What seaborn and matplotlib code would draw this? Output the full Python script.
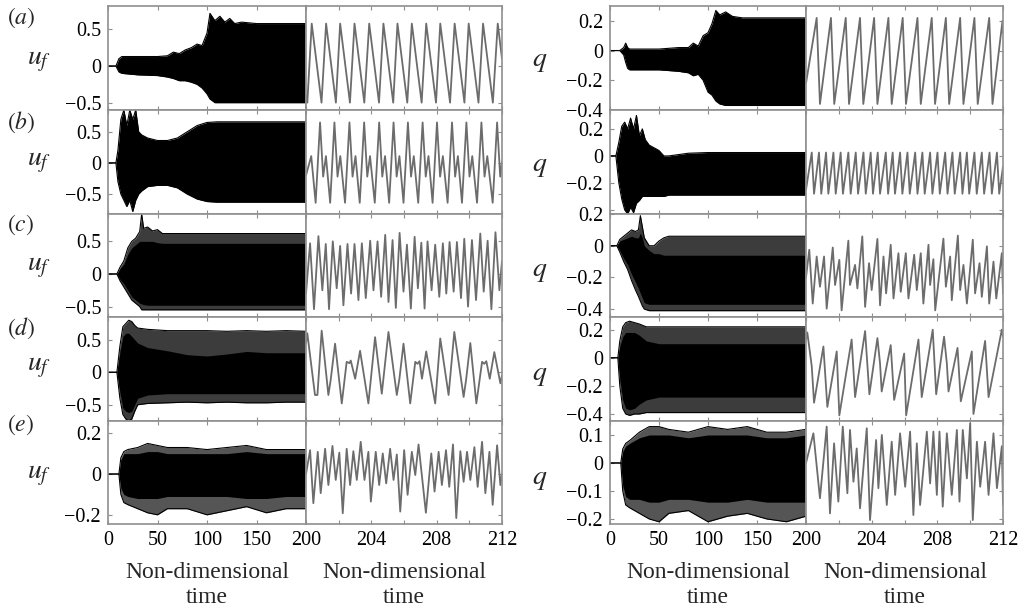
import matplotlib
matplotlib.use("Agg")
import matplotlib.pyplot as plt
import seaborn as sns
import numpy as np

sns.set_theme(style="ticks")
plt.rcParams['font.family'] = ['Liberation Serif', 'DejaVu Serif']
plt.rcParams['mathtext.fontset'] = 'stix'
plt.rcParams['axes.unicode_minus'] = True

# ---------------- data: long records (envelopes) ----------------
# left column (u_f)
UA_T = [0, 8, 11, 14, 30, 50, 60, 66, 72, 78, 84, 90, 95, 100, 103, 108, 113, 118, 123, 128, 135, 150, 200]
UA_UP = [0, 0, 0.10, 0.13, 0.13, 0.13, 0.14, 0.19, 0.17, 0.22, 0.25, 0.30, 0.28, 0.45, 0.72, 0.62, 0.68, 0.60, 0.65, 0.58, 0.60, 0.58, 0.58]
UA_LO = [0, 0, -0.08, -0.10, -0.12, -0.13, -0.15, -0.17, -0.20, -0.20, -0.22, -0.25, -0.30, -0.38, -0.45, -0.50, -0.50, -0.50, -0.50, -0.50, -0.50, -0.50, -0.50]

UB_T = [0, 8, 10, 13, 16, 19, 22, 25, 28, 31, 34, 40, 50, 60, 70, 80, 90, 100, 110, 200]
UB_UP = [0, 0, 0.20, 0.70, 0.85, 0.60, 0.85, 0.70, 0.85, 0.50, 0.45, 0.40, 0.36, 0.36, 0.40, 0.50, 0.60, 0.65, 0.66, 0.66]
UB_LO = [0, 0, -0.30, -0.50, -0.60, -0.70, -0.60, -0.78, -0.60, -0.50, -0.45, -0.38, -0.36, -0.36, -0.40, -0.50, -0.58, -0.62, -0.63, -0.63]

UC_T = [0, 9, 12, 16, 20, 24, 28, 32, 34, 36, 40, 45, 50, 55, 60, 200]
UC_UP = [0, 0, 0.10, 0.20, 0.40, 0.50, 0.55, 0.65, 0.92, 0.70, 0.72, 0.66, 0.68, 0.62, 0.62, 0.62]
UC_CU = [0, 0, 0.08, 0.15, 0.30, 0.40, 0.45, 0.50, 0.50, 0.50, 0.50, 0.50, 0.48, 0.47, 0.47, 0.47]
UC_CL = [0, 0, -0.08, -0.15, -0.25, -0.35, -0.40, -0.45, -0.46, -0.47, -0.48, -0.48, -0.48, -0.48, -0.48, -0.48]
UC_LO = [0, 0, -0.10, -0.20, -0.30, -0.40, -0.45, -0.50, -0.55, -0.55, -0.55, -0.55, -0.55, -0.55, -0.55, -0.55]

UD_T = [0, 9, 12, 15, 18, 21, 24, 27, 30, 40, 60, 80, 100, 120, 140, 160, 180, 200]
UD_UP = [0, 0, 0.40, 0.70, 0.75, 0.80, 0.78, 0.72, 0.68, 0.66, 0.64, 0.64, 0.64, 0.63, 0.64, 0.63, 0.64, 0.63]
UD_CU = [0, 0, 0.30, 0.55, 0.60, 0.60, 0.55, 0.50, 0.45, 0.38, 0.33, 0.27, 0.25, 0.28, 0.32, 0.30, 0.30, 0.30]
UD_CL = [0, 0, -0.30, -0.55, -0.60, -0.62, -0.60, -0.50, -0.40, -0.35, -0.33, -0.33, -0.33, -0.33, -0.33, -0.33, -0.33, -0.33]
UD_LO = [0, 0, -0.40, -0.65, -0.72, -0.75, -0.72, -0.60, -0.50, -0.48, -0.47, -0.46, -0.47, -0.46, -0.47, -0.47, -0.46, -0.46]

UE_T = [0, 11, 13, 16, 20, 30, 40, 50, 60, 80, 100, 120, 140, 160, 180, 200]
UE_UP = [0, 0, 0.08, 0.11, 0.12, 0.13, 0.15, 0.14, 0.13, 0.13, 0.12, 0.13, 0.14, 0.12, 0.12, 0.12]
UE_CU = [0, 0, 0.07, 0.10, 0.10, 0.10, 0.11, 0.11, 0.10, 0.10, 0.10, 0.10, 0.11, 0.10, 0.10, 0.10]
UE_CL = [0, 0, -0.07, -0.10, -0.11, -0.12, -0.12, -0.12, -0.11, -0.11, -0.11, -0.11, -0.12, -0.12, -0.11, -0.11]
UE_LO = [0, 0, -0.10, -0.14, -0.15, -0.17, -0.19, -0.20, -0.17, -0.17, -0.20, -0.18, -0.16, -0.19, -0.17, -0.17]

# right column (q)
QA_T = [0, 10, 14, 16, 18, 20, 30, 50, 70, 80, 85, 90, 95, 100, 104, 108, 112, 118, 125, 135, 200]
QA_UP = [0, 0, 0.02, 0.05, 0.02, 0.01, 0.01, 0.01, 0.02, 0.02, 0.05, 0.03, 0.10, 0.12, 0.18, 0.27, 0.24, 0.26, 0.23, 0.22, 0.22]
QA_LO = [0, 0, -0.03, -0.08, -0.12, -0.13, -0.13, -0.13, -0.14, -0.15, -0.17, -0.16, -0.20, -0.28, -0.30, -0.34, -0.36, -0.37, -0.37, -0.37, -0.37]

QB_T = [0, 6, 9, 12, 15, 18, 21, 24, 27, 30, 33, 36, 40, 45, 50, 55, 60, 80, 100, 200]
QB_UP = [0, 0, 0.10, 0.22, 0.25, 0.20, 0.28, 0.20, 0.30, 0.15, 0.20, 0.12, 0.08, 0.06, 0.04, 0.00, 0.00, 0.02, 0.025, 0.025]
QB_LO = [0, 0, -0.20, -0.32, -0.40, -0.43, -0.38, -0.42, -0.35, -0.33, -0.30, -0.30, -0.30, -0.30, -0.30, -0.30, -0.29, -0.29, -0.29, -0.29]

QC_T = [0, 7, 10, 14, 18, 22, 26, 29, 31, 33, 35, 40, 45, 50, 55, 60, 200]
QC_UP = [0, 0, 0.04, 0.06, 0.08, 0.10, 0.09, 0.10, 0.19, 0.12, 0.05, 0.00, 0.00, 0.03, 0.05, 0.06, 0.06]
QC_CU = [0, 0, 0.03, 0.04, 0.05, 0.06, 0.05, 0.05, 0.08, 0.05, 0.00, -0.03, -0.05, -0.05, -0.06, -0.06, -0.06]
QC_CL = [0, 0, -0.03, -0.08, -0.12, -0.18, -0.23, -0.27, -0.30, -0.33, -0.36, -0.37, -0.37, -0.37, -0.37, -0.37, -0.37]
QC_LO = [0, 0, -0.04, -0.10, -0.15, -0.22, -0.28, -0.32, -0.35, -0.38, -0.40, -0.41, -0.41, -0.41, -0.41, -0.41, -0.41]

QD_T = [0, 8, 10, 13, 16, 20, 25, 30, 37, 50, 100, 150, 200]
QD_UP = [0, 0, 0.12, 0.22, 0.25, 0.26, 0.25, 0.24, 0.22, 0.22, 0.22, 0.22, 0.22]
QD_CU = [0, 0, 0.08, 0.15, 0.18, 0.18, 0.18, 0.16, 0.12, 0.10, 0.10, 0.10, 0.10]
QD_CL = [0, 0, -0.15, -0.30, -0.36, -0.37, -0.36, -0.33, -0.30, -0.28, -0.28, -0.28, -0.28]
QD_LO = [0, 0, -0.20, -0.36, -0.40, -0.41, -0.40, -0.40, -0.39, -0.39, -0.39, -0.39, -0.39]

QE_T = [0, 11, 13, 16, 20, 30, 40, 50, 60, 80, 100, 120, 140, 160, 180, 200]
QE_UP = [0, 0, 0.05, 0.07, 0.08, 0.11, 0.13, 0.13, 0.12, 0.11, 0.13, 0.12, 0.13, 0.11, 0.11, 0.12]
QE_CU = [0, 0, 0.04, 0.06, 0.07, 0.09, 0.10, 0.10, 0.10, 0.09, 0.10, 0.10, 0.10, 0.09, 0.09, 0.10]
QE_CL = [0, 0, -0.08, -0.12, -0.13, -0.13, -0.14, -0.14, -0.13, -0.13, -0.14, -0.14, -0.13, -0.14, -0.14, -0.14]
QE_LO = [0, 0, -0.10, -0.15, -0.16, -0.18, -0.20, -0.21, -0.18, -0.17, -0.21, -0.19, -0.18, -0.20, -0.21, -0.19]

# ---------------- data: zoomed windows (extrema) ----------------
ZUA_T = [200.00, 200.08, 200.35, 200.95, 201.23, 201.83, 202.09, 202.69, 202.97, 203.57, 203.87, 204.47, 204.74, 205.34,
         205.60, 206.20, 206.48, 207.08, 207.36, 207.96, 208.22, 208.82, 209.10, 209.70, 209.96, 210.56, 210.84, 211.44,
         211.74, 212.00]
ZUA_V = [-0.40, -0.50, 0.58, -0.50, 0.58, -0.50, 0.58, -0.50, 0.58, -0.50, 0.58, -0.50, 0.58, -0.50,
         0.58, -0.50, 0.58, -0.50, 0.58, -0.50, 0.58, -0.50, 0.58, -0.50, 0.58, -0.50, 0.58, -0.50,
         0.58, 0.10]

ZUB_T = [200.00, 200.32, 200.59, 200.86, 201.05, 201.22, 201.48, 201.74, 201.93, 202.10, 202.39, 202.66,
         202.85, 203.03, 203.29, 203.56, 203.75, 203.92, 204.21, 204.48, 204.67, 204.84, 205.09, 205.36,
         205.55, 205.72, 205.97, 206.24, 206.43, 206.60, 206.87, 207.14, 207.33, 207.50, 207.75, 208.02,
         208.21, 208.38, 208.67, 208.94, 209.13, 209.30, 209.55, 209.82, 210.01, 210.18, 210.47, 210.74,
         210.93, 211.10, 211.43, 211.70, 211.89, 212.00]
ZUB_V = [-0.20, 0.11, -0.64, 0.65, -0.22, 0.11, -0.64, 0.65, -0.22, 0.11, -0.64, 0.65,
         -0.22, 0.11, -0.64, 0.65, -0.22, 0.11, -0.64, 0.65, -0.22, 0.11, -0.64, 0.65,
         -0.22, 0.11, -0.64, 0.65, -0.22, 0.11, -0.64, 0.65, -0.22, 0.11, -0.64, 0.65,
         -0.22, 0.11, -0.64, 0.65, -0.22, 0.11, -0.64, 0.65, -0.22, 0.11, -0.64, 0.65,
         -0.22, 0.11, -0.64, 0.65, -0.22, 0.02]

ZUC_T = [200.00, 200.25, 200.49, 200.76, 201.00, 201.21, 201.41, 201.64, 201.88, 202.09, 202.29, 202.54, 202.76,
         202.97, 203.21, 203.42, 203.66, 203.93, 204.13, 204.38, 204.60, 204.85, 205.05, 205.30, 205.50, 205.73,
         205.97, 206.18, 206.42, 206.65, 206.85, 207.06, 207.26, 207.44, 207.69, 207.91, 208.16, 208.38, 208.59,
         208.79, 209.04, 209.24, 209.49, 209.69, 209.92, 210.16, 210.41, 210.67, 210.88, 211.12, 211.35, 211.60,
         211.84, 212.00]
ZUC_V = [-0.30, 0.47, -0.54, 0.58, -0.25, 0.46, -0.54, 0.50, -0.22, 0.43, -0.48, 0.46, -0.30,
         0.46, -0.40, 0.47, -0.37, 0.51, -0.25, 0.50, -0.35, 0.60, -0.43, 0.52, -0.52, 0.63,
         -0.27, 0.45, -0.53, 0.57, -0.22, 0.48, -0.53, 0.50, -0.25, 0.45, -0.35, 0.47, -0.30,
         0.49, -0.27, 0.49, -0.37, 0.54, -0.50, 0.52, -0.40, 0.62, -0.27, 0.51, -0.54, 0.64,
         -0.25, 0.20]

ZUD_T = [200.00, 200.08, 200.55, 200.70, 200.96, 201.37, 201.51, 201.78, 202.19, 202.49, 202.66, 202.74, 203.01,
         203.31, 203.82, 204.23, 204.64, 205.05, 205.56, 205.71, 205.97, 206.38, 206.69, 206.83, 206.95, 207.10,
         207.36, 207.91, 208.22, 208.73, 209.08, 209.65, 209.80, 210.06, 210.43, 210.78, 210.92, 211.04, 211.25,
         211.53, 211.90, 212.00]
ZUD_V = [0.45, 0.60, -0.35, -0.35, 0.64, -0.35, -0.12, 0.44, -0.48, 0.16, 0.14, 0.18, -0.10,
         0.33, -0.48, 0.54, -0.33, 0.62, -0.35, -0.12, 0.44, -0.48, 0.16, 0.13, 0.17, -0.10,
         0.32, -0.48, 0.52, -0.35, 0.62, -0.38, -0.12, 0.45, -0.48, 0.16, 0.13, 0.17, -0.10,
         0.31, -0.17, -0.05]

ZUE_T = [200.00, 200.25, 200.45, 200.72, 200.90, 201.17, 201.37, 201.62, 201.82, 202.04, 202.25, 202.49, 202.70,
         202.90, 203.11, 203.35, 203.58, 203.82, 203.97, 204.27, 204.48, 204.70, 204.91, 205.15, 205.36, 205.56,
         205.77, 206.01, 206.22, 206.48, 206.69, 206.89, 207.34, 207.67, 207.87, 208.12, 208.32, 208.57, 208.77,
         209.00, 209.20, 209.45, 209.65, 209.86, 210.06, 210.31, 210.51, 210.78, 210.98, 211.23, 211.43, 211.70,
         211.90, 212.00]
ZUE_V = [0.00, 0.117, -0.143, 0.109, -0.094, 0.124, -0.054, 0.138, -0.029, 0.105, -0.192, 0.124, -0.054,
         0.112, -0.029, 0.158, -0.029, 0.109, -0.135, 0.109, -0.054, 0.101, -0.046, 0.124, -0.029, 0.096,
         -0.184, 0.117, -0.102, 0.109, -0.005, 0.145, -0.190, 0.101, -0.086, 0.109, -0.054, 0.117, -0.063,
         0.145, -0.216, 0.112, -0.038, 0.109, -0.029, 0.132, -0.063, 0.158, -0.094, 0.109, -0.151, 0.141,
         -0.054, 0.00]

ZQA_T = [200.00, 200.65, 200.85, 201.52, 201.72, 202.42, 202.62, 203.29, 203.49, 204.15, 204.35, 205.02, 205.22,
         205.89, 206.09, 206.79, 206.99, 207.66, 207.86, 208.52, 208.72, 209.39, 209.59, 210.26, 210.46, 211.16,
         211.36, 211.97, 212.00]
ZQA_V = [-0.22, 0.22, -0.36, 0.22, -0.36, 0.22, -0.36, 0.22, -0.36, 0.22, -0.36, 0.22, -0.36,
         0.22, -0.36, 0.22, -0.36, 0.22, -0.36, 0.22, -0.36, 0.22, -0.36, 0.22, -0.36, 0.22,
         -0.36, 0.20, 0.12]

ZQB_T = [200.00, 200.35, 200.49, 200.79, 200.93, 201.22, 201.36, 201.67, 201.81, 202.11, 202.25, 202.58, 202.72,
         203.03, 203.17, 203.50, 203.64, 203.94, 204.08, 204.37, 204.51, 204.86, 205.00, 205.28, 205.42, 205.73,
         205.87, 206.18, 206.32, 206.65, 206.79, 207.09, 207.23, 207.56, 207.70, 208.01, 208.15, 208.48, 208.62,
         208.92, 209.06, 209.39, 209.53, 209.80, 209.94, 210.26, 210.40, 210.71, 210.85, 211.18, 211.32, 211.63,
         211.77, 212.00]
ZQB_V = [-0.25, 0.025, -0.28, 0.025, -0.28, 0.025, -0.28, 0.025, -0.28, 0.025, -0.28, 0.025, -0.28,
         0.025, -0.28, 0.025, -0.28, 0.025, -0.28, 0.025, -0.28, 0.025, -0.28, 0.025, -0.28, 0.025,
         -0.28, 0.025, -0.28, 0.025, -0.28, 0.025, -0.28, 0.025, -0.28, 0.025, -0.28, 0.025, -0.28,
         0.025, -0.28, 0.025, -0.28, 0.025, -0.28, 0.025, -0.28, 0.025, -0.28, 0.025, -0.28, 0.025,
         -0.28, -0.08]

ZQC_T = [200.00, 200.20, 200.41, 200.65, 200.85, 201.10, 201.26, 201.63, 201.77, 202.03, 202.17, 202.58, 202.68,
         202.99, 203.13, 203.43, 203.60, 203.84, 204.00, 204.35, 204.51, 204.72, 204.88, 205.16, 205.33, 205.63,
         205.77, 206.08, 206.24, 206.59, 206.75, 206.99, 207.15, 207.46, 207.56, 207.76, 207.87, 208.37, 208.52,
         208.78, 208.88, 209.25, 209.39, 209.59, 209.80, 210.16, 210.30, 210.57, 210.71, 211.02, 211.16, 211.42,
         211.59, 211.93, 212.00]
ZQC_V = [-0.20, -0.025, -0.365, -0.068, -0.259, -0.068, -0.397, -0.011, -0.248, -0.089, -0.408, 0.032, -0.248,
         -0.121, -0.270, 0.059, -0.386, -0.110, -0.280, 0.043, -0.376, -0.068, -0.301, 0.006, -0.333, -0.047,
         -0.291, -0.047, -0.333, -0.057, -0.280, -0.047, -0.365, 0.006, -0.248, -0.085, -0.408, 0.045, -0.259,
         -0.068, -0.344, 0.064, -0.280, -0.121, -0.365, 0.038, -0.301, -0.110, -0.323, -0.004, -0.365, -0.100,
         -0.333, -0.047, -0.30]

ZQD_T = [200.00, 200.08, 200.35, 200.49, 201.06, 201.30, 201.87, 202.03, 202.78, 202.99, 203.60, 203.86, 204.35,
         204.51, 204.61, 205.16, 205.37, 205.98, 206.10, 206.85, 207.05, 207.72, 207.93, 208.41, 208.58, 208.68,
         209.23, 209.43, 210.10, 210.20, 210.91, 211.12, 211.93, 212.00]
ZQD_V = [0.13, 0.18, -0.06, -0.32, 0.08, -0.35, 0.045, -0.41, 0.13, -0.28, 0.19, -0.26, 0.14,
         -0.04, -0.24, 0.09, -0.30, 0.03, -0.41, 0.13, -0.28, 0.20, -0.26, 0.15, -0.04, -0.24,
         0.07, -0.31, 0.045, -0.40, 0.12, -0.28, 0.20, 0.15]

ZQE_T = [200.00, 200.45, 200.85, 201.26, 201.46, 201.71, 201.97, 202.24, 202.52, 202.68, 202.89, 203.09, 203.29,
         203.70, 203.90, 204.27, 204.41, 204.62, 204.92, 205.22, 205.43, 205.73, 206.04, 206.34, 206.54, 206.75,
         206.95, 207.36, 207.56, 207.76, 207.97, 208.13, 208.33, 208.58, 208.88, 209.19, 209.35, 209.55, 209.80,
         210.00, 210.16, 210.41, 210.61, 210.91, 211.12, 211.42, 211.63, 211.93, 212.00]
ZQE_V = [0.00, 0.106, -0.126, 0.130, -0.180, 0.070, -0.138, 0.130, -0.108, 0.118, -0.067, 0.052, -0.162,
         0.124, -0.204, 0.082, -0.090, 0.100, -0.150, 0.076, -0.114, 0.106, -0.085, 0.112, -0.186, 0.070,
         -0.150, 0.112, -0.073, 0.112, -0.114, 0.112, -0.156, 0.106, -0.114, 0.118, -0.138, 0.118, -0.055,
         0.142, -0.204, 0.076, -0.085, 0.076, -0.114, 0.106, -0.090, 0.060, -0.150]

# ---------------- axis ticks / labels ----------------
ROW_TAGS = ['a', 'b', 'c', 'd', 'e']
U_YLIM = [(-0.60, 0.82), (-0.82, 0.85), (-0.66, 0.92), (-0.75, 0.85), (-0.245, 0.26)]
Q_YLIM = [(-0.4005, 0.30), (-0.43, 0.34), (-0.45, 0.2005), (-0.45, 0.29), (-0.218, 0.15)]
U_YTICKS = [[-0.5, 0, 0.5], [-0.5, 0, 0.5], [-0.5, 0, 0.5], [-0.5, 0, 0.5], [-0.2, 0, 0.2]]
U_YTLAB = [['−0.5', '0', '0.5']] * 4 + [['−0.2', '0', '0.2']]
Q_YTICKS = [[-0.4, -0.2, 0, 0.2], [-0.4, -0.2, 0, 0.2], [-0.4, -0.2, 0, 0.2], [-0.4, -0.2, 0, 0.2], [-0.2, -0.1, 0, 0.1]]
Q_YTLAB = [['−0.4', '−0.2', '0', '0.2'], ['', '−0.2', '0', '0.2'], ['−0.4', '−0.2', '0', '0.2'],
           ['−0.4', '−0.2', '0', '0.2'], ['−0.2', '−0.1', '0', '0.1']]
LONG_XT = [0, 50, 100, 150, 200]
LONG_XL = ['0', '50', '100', '150', '200']
ZOOM_XT = [200, 202, 204, 206, 208, 210, 212]
ZOOM_XL = ['', '', '204', '', '208', '', '212']
XLABEL = 'Non-dimensional\ntime'

# ---------------- layout (pixels) ----------------
W, H = 1024, 612
ROWS = [(6, 110), (110, 214), (214, 317), (317, 421), (421, 524)]
U_COLS = [(108, 306), (306, 502)]
Q_COLS = [(610, 806), (806, 1003)]

FRAME = '#8f8f8f'
LINEC = '#6c6c6c'
TICK_FS = 14.5

fig = plt.figure(figsize=(W / 100, H / 100), dpi=100)


def px_axes(x0, x1, y0, y1):
    return fig.add_axes([x0 / W, 1 - y1 / H, (x1 - x0) / W, (y1 - y0) / H])


def style(ax, long, yt, ytl, ylim, bottom):
    for s in ax.spines.values():
        s.set_color(FRAME)
        s.set_linewidth(1.2)
        s.set_visible(True)
    ax.set_ylim(*ylim)
    ax.set_yticks(yt)
    ax.tick_params(axis='both', direction='in', length=3, width=0.8, color=FRAME,
                   labelsize=TICK_FS, pad=6, labelcolor='black')
    if long:
        ax.set_xlim(0, 200)
        ax.set_xticks(LONG_XT)
        ax.set_xticklabels(LONG_XL if bottom else [''] * len(LONG_XT))
        ax.set_yticklabels(ytl)
        ax.tick_params(axis='y', left=True, right=False, labelleft=True, pad=5)
    else:
        ax.set_xlim(200, 212)
        ax.set_xticks(ZOOM_XT)
        ax.set_xticklabels(ZOOM_XL if bottom else [''] * len(ZOOM_XT))
        ax.set_yticklabels([''] * len(yt))
        ax.tick_params(axis='y', left=False, right=True, labelleft=False)
    ax.tick_params(axis='x', top=True, bottom=True, labelbottom=bottom, pad=5)
    ax.set_xlabel('')
    ax.set_ylabel('')
    ax.set_facecolor('white')


def draw_long(ax, t, up, lo, cu=None, cl=None, band='black'):
    ax.fill_between(t, lo, up, color=band, lw=0)
    if cu is not None:
        ax.fill_between(t, cl, cu, color='black', lw=0)
    sns.lineplot(x=t, y=up, ax=ax, color='black', linewidth=0.8, estimator=None, sort=False)
    sns.lineplot(x=t, y=lo, ax=ax, color='black', linewidth=0.8, estimator=None, sort=False)


def draw_zoom(ax, t, v):
    sns.lineplot(x=t, y=v, ax=ax, color=LINEC, linewidth=1.3, estimator=None, sort=False)


U_LONG = [
    (UA_T, UA_UP, UA_LO, None, None, 'black'),
    (UB_T, UB_UP, UB_LO, None, None, 'black'),
    (UC_T, UC_UP, UC_LO, UC_CU, UC_CL, '#3c3c3c'),
    (UD_T, UD_UP, UD_LO, UD_CU, UD_CL, '#3c3c3c'),
    (UE_T, UE_UP, UE_LO, UE_CU, UE_CL, '#555555'),
]
Q_LONG = [
    (QA_T, QA_UP, QA_LO, None, None, 'black'),
    (QB_T, QB_UP, QB_LO, None, None, 'black'),
    (QC_T, QC_UP, QC_LO, QC_CU, QC_CL, '#3c3c3c'),
    (QD_T, QD_UP, QD_LO, QD_CU, QD_CL, '#3c3c3c'),
    (QE_T, QE_UP, QE_LO, QE_CU, QE_CL, '#555555'),
]
U_ZOOM = [(ZUA_T, ZUA_V), (ZUB_T, ZUB_V), (ZUC_T, ZUC_V), (ZUD_T, ZUD_V), (ZUE_T, ZUE_V)]
Q_ZOOM = [(ZQA_T, ZQA_V), (ZQB_T, ZQB_V), (ZQC_T, ZQC_V), (ZQD_T, ZQD_V), (ZQE_T, ZQE_V)]

for i, (y0, y1) in enumerate(ROWS):
    bottom = (i == len(ROWS) - 1)
    # u_f group
    ax = px_axes(U_COLS[0][0], U_COLS[0][1], y0, y1)
    t, up, lo, cu, cl, band = U_LONG[i]
    draw_long(ax, t, up, lo, cu, cl, band)
    style(ax, True, U_YTICKS[i], U_YTLAB[i], U_YLIM[i], bottom)
    ax = px_axes(U_COLS[1][0], U_COLS[1][1], y0, y1)
    draw_zoom(ax, *U_ZOOM[i])
    style(ax, False, U_YTICKS[i], U_YTLAB[i], U_YLIM[i], bottom)
    # q group
    ax = px_axes(Q_COLS[0][0], Q_COLS[0][1], y0, y1)
    t, up, lo, cu, cl, band = Q_LONG[i]
    draw_long(ax, t, up, lo, cu, cl, band)
    style(ax, True, Q_YTICKS[i], Q_YTLAB[i], Q_YLIM[i], bottom)
    ax = px_axes(Q_COLS[1][0], Q_COLS[1][1], y0, y1)
    draw_zoom(ax, *Q_ZOOM[i])
    style(ax, False, Q_YTICKS[i], Q_YTLAB[i], Q_YLIM[i], bottom)

# row tags and y-variable names
TAG_Y = [18, 122, 225, 328, 425]
UF_Y = [62, 163, 267, 368, 475]
Q_Y = [62, 167, 272, 375, 480]
for tag, ty, uy, qy in zip(ROW_TAGS, TAG_Y, UF_Y, Q_Y):
    fig.text(21 / W, 1 - ty / H, r'$(%s)$' % tag, ha='center', va='center', fontsize=17)
    fig.text(39 / W, 1 - uy / H, r'$u_f$', ha='center', va='center', fontsize=20)
    fig.text(540 / W, 1 - qy / H, r'$q$', ha='center', va='center', fontsize=20)

for xc in [207, 404, 708, 905]:
    fig.text(xc / W, 1 - 585 / H, XLABEL, ha='center', va='center', fontsize=17, linespacing=1.25)

fig.savefig('out.png', dpi=100)
